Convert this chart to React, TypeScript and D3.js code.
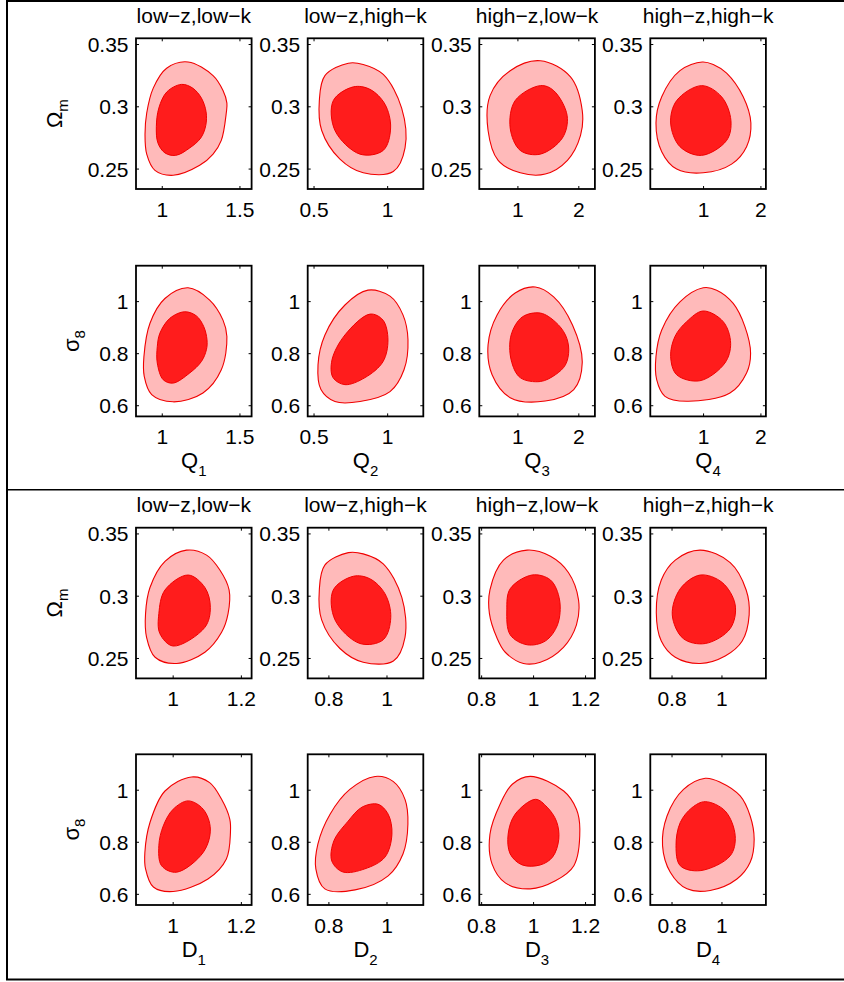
import React from "react";
import * as d3 from "d3";

// ---------- DATA ----------
const titles = ["low−z,low−k", "low−z,high−k", "high−z,low−k", "high−z,high−k"];
const subscripts = ["1", "2", "3", "4"];

const omegaDomain: [number, number] = [0.234, 0.355];
const sigmaDomain: [number, number] = [0.559, 1.138];
const omegaTicks = [0.25, 0.3, 0.35];
const sigmaTicks = [0.6, 0.8, 1];

const qDomains: [number, number][] = [[0.831, 1.575], [0.457, 1.242], [0.366, 2.264], [0.071, 2.087]];
const dDomains: [number, number][] = [[0.891, 1.23], [0.727, 1.125], [0.791, 1.236], [0.713, 1.176]];
const qTicks = [[1, 1.5], [0.5, 1], [1, 2], [1, 2]];
const dTicks = [[1, 1.2], [0.8, 1], [0.8, 1, 1.2], [0.8, 1]];

type P = [number, number];

// Q vs Omega_m
const qOmegaOuter: P[][] = [
  [[1.166,0.336],[1.327,0.325],[1.391,0.313],[1.416,0.303],[1.412,0.295],[1.380,0.273],[1.327,0.262],[1.241,0.253],[1.070,0.245],[0.953,0.249],[0.900,0.262],[0.889,0.278],[0.900,0.295],[0.942,0.315],[1.028,0.331]],
  [[0.733,0.335],[0.834,0.334],[0.970,0.326],[1.095,0.299],[1.118,0.267],[1.038,0.248],[0.834,0.247],[0.676,0.258],[0.552,0.281],[0.536,0.305],[0.574,0.325]],
  [[1.368,0.337],[1.863,0.324],[2.056,0.297],[2.028,0.277],[1.813,0.257],[1.450,0.246],[1.038,0.247],[0.675,0.257],[0.510,0.281],[0.543,0.309],[0.873,0.329]],
  [[0.977,0.336],[1.169,0.334],[1.402,0.327],[1.691,0.308],[1.825,0.287],[1.750,0.268],[1.489,0.254],[0.994,0.247],[0.531,0.250],[0.270,0.264],[0.170,0.287],[0.270,0.308],[0.588,0.329]],
];
const qOmegaInner: P[][] = [
  [[1.124,0.318],[1.196,0.315],[1.252,0.307],[1.282,0.296],[1.280,0.285],[1.248,0.275],[1.177,0.267],[1.087,0.261],[1.017,0.263],[0.972,0.271],[0.962,0.284],[0.978,0.299],[1.030,0.312]],
  [[0.767,0.316],[0.880,0.314],[0.982,0.302],[1.020,0.283],[0.970,0.265],[0.812,0.262],[0.642,0.281],[0.631,0.305]],
  [[1.368,0.317],[1.587,0.313],[1.808,0.293],[1.731,0.275],[1.368,0.262],[1.038,0.265],[0.873,0.283],[0.955,0.305]],
  [[0.966,0.317],[1.315,0.308],[1.477,0.289],[1.402,0.273],[0.966,0.261],[0.588,0.268],[0.426,0.287],[0.531,0.305]],
];
// Q vs sigma_8
const qSigmaOuter: P[][] = [
  [[1.166,1.053],[1.305,1.006],[1.391,0.929],[1.416,0.866],[1.380,0.738],[1.262,0.649],[1.070,0.615],[0.932,0.643],[0.884,0.713],[0.882,0.789],[0.921,0.917],[1.017,1.012]],
  [[0.866,1.044],[1.016,1.021],[1.104,0.949],[1.138,0.853],[1.111,0.738],[1.016,0.654],[0.812,0.616],[0.642,0.616],[0.547,0.662],[0.527,0.757],[0.574,0.872],[0.710,0.987]],
  [[1.285,1.056],[1.587,1.018],[1.896,0.910],[2.056,0.765],[1.917,0.662],[1.450,0.618],[0.873,0.631],[0.576,0.719],[0.510,0.834],[0.658,0.949],[0.955,1.033]],
  [[0.994,1.053],[1.228,1.044],[1.517,0.993],[1.721,0.904],[1.820,0.802],[1.750,0.726],[1.460,0.649],[0.705,0.617],[0.327,0.636],[0.182,0.700],[0.170,0.789],[0.270,0.891],[0.588,0.999]],
];
const qSigmaInner: P[][] = [
  [[1.145,0.961],[1.220,0.945],[1.267,0.904],[1.288,0.853],[1.284,0.815],[1.252,0.770],[1.177,0.726],[1.070,0.687],[1.006,0.700],[0.968,0.764],[0.968,0.827],[0.985,0.879],[1.049,0.936]],
  [[0.880,0.952],[0.968,0.929],[1.002,0.853],[0.968,0.769],[0.846,0.708],[0.710,0.681],[0.629,0.708],[0.622,0.776],[0.710,0.872]],
  [[1.368,0.956],[1.615,0.922],[1.780,0.872],[1.835,0.815],[1.780,0.757],[1.615,0.719],[1.368,0.693],[1.038,0.708],[0.889,0.776],[0.889,0.872],[1.071,0.941]],
  [[0.994,0.964],[1.343,0.923],[1.472,0.840],[1.372,0.764],[0.937,0.696],[0.531,0.719],[0.426,0.789],[0.501,0.866],[0.705,0.923]],
];
// D vs Omega_m
const dOmegaOuter: P[][] = [
  [[1.039,0.337],[1.098,0.333],[1.137,0.321],[1.164,0.305],[1.161,0.286],[1.142,0.271],[1.093,0.255],[1.010,0.246],[0.947,0.251],[0.922,0.267],[0.919,0.286],[0.932,0.307],[0.976,0.328]],
  [[0.867,0.335],[0.918,0.334],[0.987,0.326],[1.051,0.299],[1.062,0.267],[1.022,0.248],[0.918,0.247],[0.838,0.258],[0.775,0.281],[0.767,0.305],[0.786,0.325]],
  [[0.975,0.337],[1.065,0.332],[1.134,0.319],[1.173,0.297],[1.165,0.277],[1.115,0.259],[1.026,0.247],[0.961,0.246],[0.891,0.255],[0.858,0.267],[0.830,0.286],[0.832,0.305],[0.884,0.329]],
  [[0.913,0.337],[1.033,0.327],[1.097,0.305],[1.109,0.285],[1.081,0.264],[1.013,0.252],[0.913,0.246],[0.813,0.251],[0.757,0.264],[0.737,0.287],[0.757,0.313],[0.813,0.329]],
];
const dOmegaInner: P[][] = [
  [[1.044,0.317],[1.093,0.307],[1.109,0.291],[1.093,0.275],[1.000,0.260],[0.961,0.270],[0.958,0.286],[0.976,0.305]],
  [[0.884,0.316],[0.941,0.314],[0.993,0.302],[1.013,0.283],[0.987,0.265],[0.907,0.262],[0.821,0.281],[0.815,0.305]],
  [[0.994,0.317],[1.065,0.313],[1.100,0.297],[1.092,0.277],[1.045,0.264],[0.975,0.261],[0.910,0.269],[0.897,0.289],[0.910,0.306]],
  [[0.913,0.317],[1.001,0.311],[1.053,0.293],[1.033,0.274],[0.933,0.262],[0.845,0.266],[0.801,0.285],[0.833,0.306]],
];
// D vs sigma_8
const dSigmaOuter: P[][] = [
  [[1.054,1.051],[1.107,1.029],[1.142,0.965],[1.166,0.889],[1.168,0.838],[1.156,0.736],[1.102,0.659],[1.000,0.611],[0.942,0.628],[0.919,0.698],[0.917,0.761],[0.932,0.876],[0.976,0.997]],
  [[0.959,1.053],[1.021,1.034],[1.062,0.965],[1.072,0.870],[1.055,0.755],[1.004,0.671],[0.890,0.617],[0.786,0.621],[0.755,0.698],[0.762,0.793],[0.804,0.908],[0.872,1.003]],
  [[0.987,1.053],[1.116,0.997],[1.165,0.927],[1.178,0.851],[1.155,0.710],[1.084,0.652],[0.987,0.621],[0.891,0.644],[0.840,0.717],[0.832,0.831],[0.871,0.946],[0.918,1.023]],
  [[0.933,1.046],[0.993,1.031],[1.073,0.978],[1.113,0.901],[1.129,0.812],[1.113,0.723],[1.060,0.659],[0.953,0.615],[0.860,0.621],[0.793,0.685],[0.762,0.787],[0.780,0.901],[0.846,1.003]],
];
const dSigmaInner: P[][] = [
  [[1.044,0.959],[1.088,0.927],[1.109,0.851],[1.088,0.761],[1.010,0.685],[0.966,0.710],[0.958,0.787],[0.971,0.863],[1.000,0.927]],
  [[0.969,0.946],[1.004,0.908],[1.017,0.831],[0.993,0.743],[0.924,0.698],[0.848,0.686],[0.810,0.728],[0.817,0.805],[0.866,0.881],[0.914,0.935]],
  [[1.007,0.965],[1.052,0.935],[1.088,0.881],[1.097,0.812],[1.073,0.743],[1.026,0.713],[0.956,0.713],[0.910,0.755],[0.902,0.831],[0.929,0.908]],
  [[0.933,0.956],[1.013,0.920],[1.053,0.825],[1.033,0.748],[0.913,0.691],[0.833,0.710],[0.816,0.787],[0.833,0.876],[0.880,0.933]],
];

// ---------- LAYOUT ----------
const W = 844;
const H = 982;
const colLefts = [136, 307.7, 479.3, 650.3];
const rowTops = [38.3, 265.7, 527.7, 754.3];
const boxW = 115.6;
const boxH = 150.7;
const FONT = "'Liberation Sans', Arial, Helvetica, sans-serif";
const OUTER_FILL = "#ffbaba";
const INNER_FILL = "#ff1c1c";
const EDGE = "#f00000";

type PanelProps = {
  left: number;
  top: number;
  xDomain: [number, number];
  yDomain: [number, number];
  xTicks: number[];
  yTicks: number[];
  outer: P[];
  inner: P[];
  title?: string;
  yLabel?: { main: string; sub: string; baselineX: number };
  xLabel?: { main: string; sub: string };
};

function fmt(v: number) {
  return String(+v.toFixed(3));
}

function Panel(p: PanelProps) {
  const x = d3.scaleLinear().domain(p.xDomain).range([p.left, p.left + boxW]);
  const y = d3.scaleLinear().domain(p.yDomain).range([p.top + boxH, p.top]);
  const line = d3
    .line<P>()
    .x((d) => x(d[0]))
    .y((d) => y(d[1]))
    .curve(d3.curveCatmullRomClosed.alpha(0.5));
  const tl = 3;
  const bottom = p.top + boxH;
  const right = p.left + boxW;
  const cx = p.left + boxW / 2;
  const cy = p.top + boxH / 2;
  return (
    <g>
      <path d={line(p.outer) || ""} fill={OUTER_FILL} stroke={EDGE} strokeWidth={1.1} />
      <path d={line(p.inner) || ""} fill={INNER_FILL} stroke={EDGE} strokeWidth={1} />
      {p.xTicks.map((t) => (
        <g key={"x" + t}>
          <line x1={x(t)} x2={x(t)} y1={bottom} y2={bottom - tl} stroke="#000" strokeWidth={1} />
          <line x1={x(t)} x2={x(t)} y1={p.top} y2={p.top + tl} stroke="#000" strokeWidth={1} />
          <text x={x(t)} y={bottom + 27.5} textAnchor="middle" fontSize={21} fontFamily={FONT}>
            {fmt(t)}
          </text>
        </g>
      ))}
      {p.yTicks.map((t) => (
        <g key={"y" + t}>
          <line x1={p.left} x2={p.left + tl} y1={y(t)} y2={y(t)} stroke="#000" strokeWidth={1} />
          <line x1={right} x2={right - tl} y1={y(t)} y2={y(t)} stroke="#000" strokeWidth={1} />
          <text x={p.left - 7.5} y={y(t)} dy="0.36em" textAnchor="end" fontSize={21} fontFamily={FONT}>
            {fmt(t)}
          </text>
        </g>
      ))}
      <rect x={p.left} y={p.top} width={boxW} height={boxH} fill="none" stroke="#000" strokeWidth={1.8} />
      {p.title && (
        <text x={cx} y={p.top - 15.5} textAnchor="middle" fontSize={21} fontFamily={FONT}>
          {p.title}
        </text>
      )}
      {p.yLabel && (
        <text
          transform={`translate(${p.yLabel.baselineX},${cy}) rotate(-90)`}
          textAnchor="middle"
          fontSize={22}
          fontFamily={FONT}
        >
          {p.yLabel.main}
          <tspan fontSize={15} dy={6}>
            {p.yLabel.sub}
          </tspan>
        </text>
      )}
      {p.xLabel && (
        <text x={cx} y={bottom + 52} textAnchor="middle" fontSize={22} fontFamily={FONT}>
          {p.xLabel.main}
          <tspan fontSize={15} dy={8}>
            {p.xLabel.sub}
          </tspan>
        </text>
      )}
    </g>
  );
}

export default function App() {
  const panels: PanelProps[] = [];
  for (let c = 0; c < 4; c++) {
    panels.push({
      left: colLefts[c], top: rowTops[0], xDomain: qDomains[c], yDomain: omegaDomain,
      xTicks: qTicks[c], yTicks: omegaTicks, outer: qOmegaOuter[c], inner: qOmegaInner[c],
      title: titles[c], yLabel: c === 0 ? { main: "Ω", sub: "m", baselineX: 62 } : undefined,
    });
    panels.push({
      left: colLefts[c], top: rowTops[1], xDomain: qDomains[c], yDomain: sigmaDomain,
      xTicks: qTicks[c], yTicks: sigmaTicks, outer: qSigmaOuter[c], inner: qSigmaInner[c],
      yLabel: c === 0 ? { main: "σ", sub: "8", baselineX: 79 } : undefined,
      xLabel: { main: "Q", sub: subscripts[c] },
    });
    panels.push({
      left: colLefts[c], top: rowTops[2], xDomain: dDomains[c], yDomain: omegaDomain,
      xTicks: dTicks[c], yTicks: omegaTicks, outer: dOmegaOuter[c], inner: dOmegaInner[c],
      title: titles[c], yLabel: c === 0 ? { main: "Ω", sub: "m", baselineX: 62 } : undefined,
    });
    panels.push({
      left: colLefts[c], top: rowTops[3], xDomain: dDomains[c], yDomain: sigmaDomain,
      xTicks: dTicks[c], yTicks: sigmaTicks, outer: dSigmaOuter[c], inner: dSigmaInner[c],
      yLabel: c === 0 ? { main: "σ", sub: "8", baselineX: 79 } : undefined,
      xLabel: { main: "D", sub: subscripts[c] },
    });
  }
  return (
    <div style={{ position: "absolute", left: 0, top: 0, width: W, height: H, background: "#fff" }}>
      <svg width={W} height={H} style={{ display: "block" }}>
        <rect x={0} y={0} width={W} height={H} fill="#fff" />
        {panels.map((p, i) => (
          <Panel key={i} {...p} />
        ))}
        <rect x={7} y={1} width={840} height={978.5} fill="none" stroke="#000" strokeWidth={2} />
        <line x1={7} x2={W} y1={489.7} y2={489.7} stroke="#000" strokeWidth={1.5} />
      </svg>
    </div>
  );
}
